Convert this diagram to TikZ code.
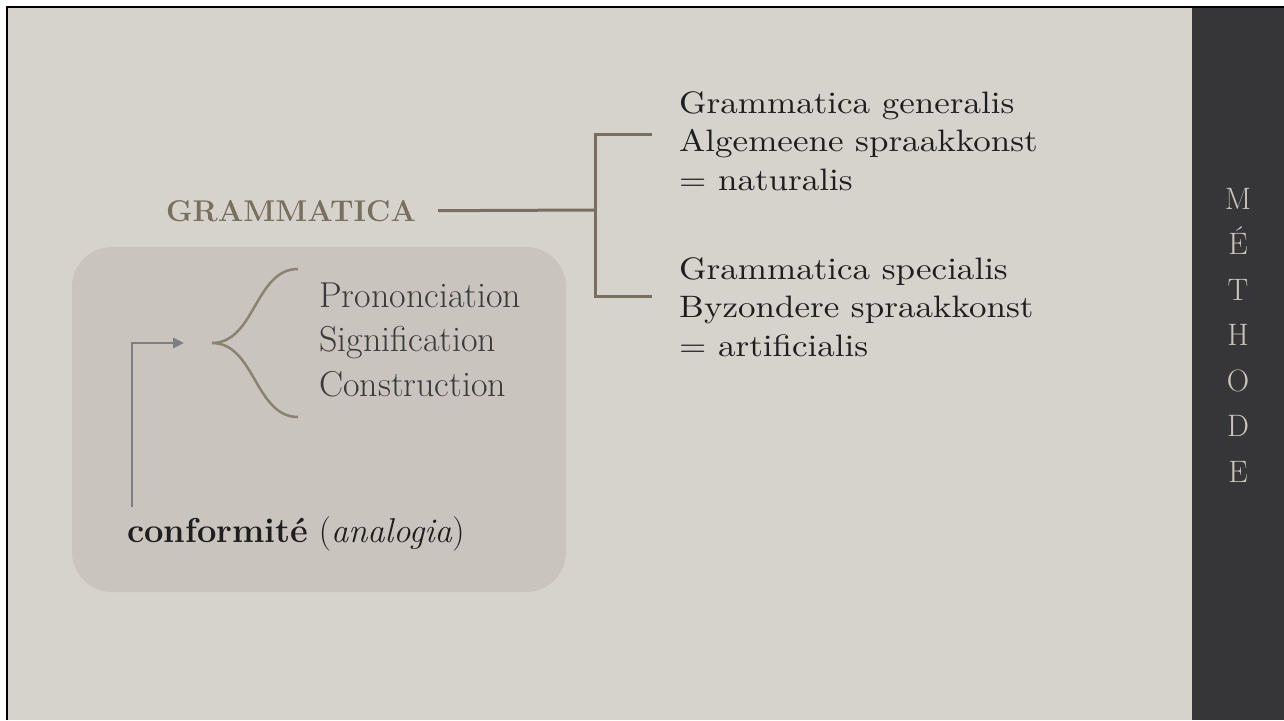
\documentclass[tikz,border=0pt]{standalone}
\usepackage{fontspec}
\usetikzlibrary{arrows.meta}
\newfontfamily\widefont{lmroman10-regular.otf}[FakeStretch=1.13]
\definecolor{slide}{HTML}{D6D3CC}
\definecolor{boxfill}{HTML}{C9C5BE}
\definecolor{sidebar}{HTML}{363638}
\definecolor{taupe}{HTML}{777060}
\definecolor{bracecol}{HTML}{8A8272}
\definecolor{arrowcol}{HTML}{7E7E82}
\definecolor{sidetext}{HTML}{C9C5BB}
\definecolor{ink}{HTML}{1E1E1E}
\definecolor{softink}{HTML}{3A3A3A}

\begin{document}
\begin{tikzpicture}[x=1pt,y=-1pt,
  branch/.style={draw=taupe,line width=3pt},
  label/.style={anchor=base west,inner sep=0pt,align=left,font=\widefont\fontsize{31}{38.5}\selectfont,text=ink}]
  \useasboundingbox (0,0) rectangle (1284,720);
  \fill[white] (0,0) rectangle (1284,720);
  \fill[slide] (8,8) rectangle (1192,720);
  \fill[sidebar] (1192,8) rectangle (1284,720);
  \draw[line width=2.5pt] (7,720) -- (7,7) -- (1284,7);
  \fill[boxfill,rounded corners=40pt] (72,247) rectangle (566,592);

  \node[label,font=\fontsize{30}{36}\selectfont\bfseries,text=taupe] (gram) at (166,221) {GRAMMATICA};
  \node[label] (gen)  at (679,190) {Grammatica generalis\\Algemeene spraakkonst\\= naturalis};
  \node[label] (spec) at (679,356) {Grammatica specialis\\Byzondere spraakkonst\\= artificialis};
  \node[label,font=\fontsize{36}{44.5}\selectfont,text=softink] (parts) at (319,396) {Prononciation\\Signification\\Construction};
  \node[label,font=\fontsize{34.5}{40}\selectfont] (conf) at (127,542) {\textbf{conformité} (\textit{analogia})};
  \node[anchor=base,inner sep=0pt,align=center,font=\fontsize{31}{45.5}\selectfont,text=sidetext] (side) at (1238,482) {M\\É\\T\\H\\O\\D\\E};

  \coordinate (fork) at (595,210);
  \coordinate (gen end) at (652,134);
  \coordinate (spec end) at (652,296);
  \coordinate (tip) at (212,343);
  \draw[branch] ([xshift=22pt]gram.east) -- (fork);
  \draw[branch] (gen end) -| (fork) |- (spec end);
  \draw[bracecol,line width=2.5pt] (298,269) .. controls (255,269) and (255,343) .. (tip)
    .. controls (255,343) and (255,417) .. (298,417);
  \draw[arrowcol,line width=2.7pt,-{Triangle[length=11pt,width=10pt]}] ([xshift=5pt,yshift=35pt]conf.base west) |- ([xshift=-28pt]tip);
\end{tikzpicture}
\end{document}
